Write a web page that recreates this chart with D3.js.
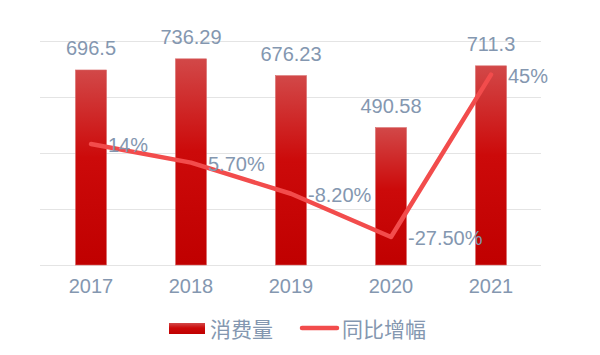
<!DOCTYPE html>
<html>
<head>
<meta charset="utf-8">
<script src="https://cdn.jsdelivr.net/npm/d3@7"></script>
<style>
  body { margin: 0; background: #fff; }
  text { font-family: "Liberation Sans", Arial, sans-serif; fill: #8497b0; }
  .cjk { font-family: "Noto Sans CJK SC", sans-serif; }
</style>
</head>
<body>
<div id="chart"></div>
<script>
var years = ["2017", "2018", "2019", "2020", "2021"];
var consumption = [696.5, 736.29, 676.23, 490.58, 711.3];
var growth = [14, 5.7, -8.2, -27.5, 45];
var growthLabels = ["14%", "5.70%", "-8.20%", "-27.50%", "45%"];
var leftTicks = [0, 200, 400, 600, 800];

var width = 600, height = 355;

var svg = d3.select("#chart").append("svg")
	.attr("width", width)
	.attr("height", height);

var defs = svg.append("defs");
var grad = defs.append("linearGradient").attr("id", "barGrad")
	.attr("x1", 0).attr("x2", 0).attr("y1", 0).attr("y2", 1);
grad.append("stop").attr("offset", "0%").attr("stop-color", "#d24848");
grad.append("stop").attr("offset", "45%").attr("stop-color", "#cc0a0a");
grad.append("stop").attr("offset", "100%").attr("stop-color", "#c00000");

var x = d3.scaleBand().domain(years).range([41, 541]).paddingInner(0.69).paddingOuter(0.345);
var y = d3.scaleLinear().domain([0, 800]).range([265, 41]);
var y2 = d3.scaleLinear().domain([-40, 60]).range([265, 41]);

// grid
svg.append("g").selectAll("line").data(leftTicks).enter().append("line")
	.attr("x1", 40).attr("x2", 541)
	.attr("y1", function(d) { return y(d) + 0.5; })
	.attr("y2", function(d) { return y(d) + 0.5; })
	.attr("stroke", "#e4e4e4").attr("stroke-width", 1);

// x axis
var xAxis = svg.append("g").attr("transform", "translate(0,265)")
	.call(d3.axisBottom(x).tickSize(0).tickPadding(14));
xAxis.select(".domain").remove();
xAxis.selectAll("text").attr("font-size", "20px").style("fill", "#8497b0")
	.attr("font-family", "Liberation Sans, Arial, sans-serif");

// bars
svg.append("g").selectAll("rect").data(consumption).enter().append("rect")
	.attr("x", function(d, i) { return x(years[i]); })
	.attr("width", x.bandwidth())
	.attr("y", function(d) { return y(d); })
	.attr("height", function(d) { return 265 - y(d); })
	.attr("fill", "url(#barGrad)")
	.attr("stroke", "#d86a6a").attr("stroke-width", 0.6);

svg.append("g").selectAll("text").data(consumption).enter().append("text")
	.attr("x", function(d, i) { return x(years[i]) + x.bandwidth() / 2; })
	.attr("y", function(d) { return y(d) - 15; })
	.attr("text-anchor", "middle")
	.attr("font-size", "20px")
	.text(function(d) { return d; });

// line
var line = d3.line()
	.x(function(d, i) { return x(years[i]) + x.bandwidth() / 2; })
	.y(function(d) { return y2(d); });

svg.append("path").datum(growth)
	.attr("d", line)
	.attr("fill", "none")
	.attr("stroke", "#f24c4c")
	.attr("stroke-width", 4.5)
	.attr("stroke-linejoin", "round")
	.attr("stroke-linecap", "round");

svg.append("g").selectAll("text").data(growth).enter().append("text")
	.attr("x", function(d, i) { return x(years[i]) + x.bandwidth() / 2 + 17; })
	.attr("y", function(d) { return y2(d) + 8; })
	.attr("font-size", "20px")
	.text(function(d, i) { return growthLabels[i]; });

// legend
var legend = svg.append("g");
legend.append("rect").attr("x", 169).attr("y", 323).attr("width", 36).attr("height", 11)
	.attr("fill", "url(#barGrad)");
legend.append("text").attr("class", "cjk").attr("x", 210).attr("y", 337)
	.attr("font-size", "21px").text("消费量");
legend.append("line").attr("x1", 302).attr("x2", 337).attr("y1", 328).attr("y2", 328)
	.attr("stroke", "#f24c4c").attr("stroke-width", 4.5).attr("stroke-linecap", "round");
legend.append("text").attr("class", "cjk").attr("x", 342).attr("y", 337)
	.attr("font-size", "21px").text("同比增幅");
</script>
</body>
</html>
